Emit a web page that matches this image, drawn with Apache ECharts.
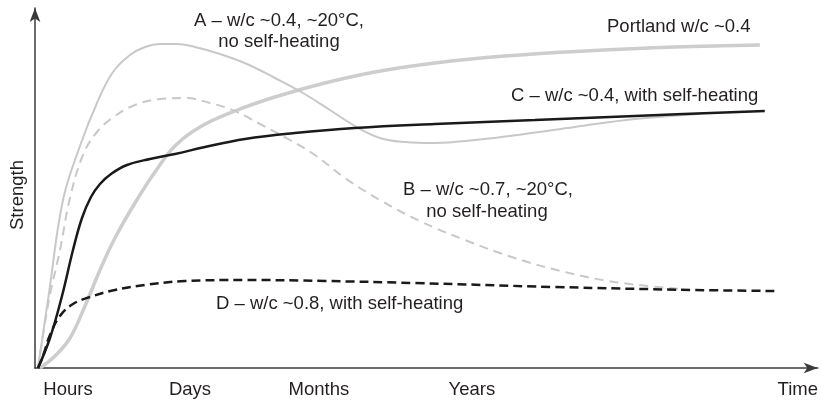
<!DOCTYPE html>
<html>
<head>
<meta charset="utf-8">
<script src="https://cdn.jsdelivr.net/npm/echarts@6/dist/echarts.min.js"></script>
<style>html,body{margin:0;padding:0;background:#fff}#c{width:821px;height:403px}</style>
</head>
<body>
<div id="c"></div>
<script>
// x: relative time position along the axis, y: relative strength
const tickLabels = ['Hours', 'Days', 'Months', 'Years', 'Time'];
const tickValues = [33, 155, 284, 437, 763];

const curveA = [[3,0],[14,75],[28,168],[45,222],[62,265],[78,296],[95,313],[110,321],[125,324],[142,324],[160,321],[185,314],[212,304],[240,290],[268,275],[295,258],[320,242],[345,230],[370,226],[400,225],[440,228],[490,234],[540,241],[600,249],[665,254]];
const curveB = [[3,0],[14,68],[25,118],[35,170],[48,213],[62,236],[80,252],[100,263],[125,269],[150,270],[175,265],[200,257],[225,244],[255,228],[280,213],[310,190],[345,168],[385,147],[430,128],[480,110],[530,96],[580,86],[645,79]];
const curveC = [[3,0],[15,30],[27,72],[38,118],[47,150],[56,171],[65,184],[76,194],[92,203],[115,209],[140,214],[170,221],[210,229],[260,235],[320,240],[400,244],[500,248],[600,252],[730,257]];
const curveD = [[3,0],[8,12],[15,33],[25,52],[38,64],[55,71],[80,78],[110,83],[150,87],[210,88],[290,87],[380,85],[520,81],[660,78],[740,77]];
const portland = [[5,0],[20,12],[35,30],[50,62],[65,98],[80,130],[100,165],[120,196],[140,222],[165,241],[200,257],[240,271],[290,285],[340,296],[400,305],[470,312],[550,317],[640,321],[725,323]];

const labelA1 = 'A – w/c ~0.4, ~20°C,';
const labelA2 = 'no self-heating';
const labelB1 = 'B – w/c ~0.7, ~20°C,';
const labelB2 = 'no self-heating';
const labelC = 'C – w/c ~0.4, with self-heating';
const labelD = 'D – w/c ~0.8, with self-heating';
const labelP = 'Portland w/c ~0.4';

const FONT = '"Liberation Sans", Arial, Helvetica, sans-serif';
const FS = 18.5;
const TXT = '#231f20';
const chart = echarts.init(document.getElementById('c'), null, {renderer: 'canvas'});

function txt(text, x, y, align) {
  return {type: 'text', x: x, y: y, silent: true,
    style: {text: text, font: FS + 'px ' + FONT, fill: TXT, textAlign: align, textVerticalAlign: 'middle'}};
}

chart.setOption({
  animation: false,
  backgroundColor: '#fff',
  grid: {left: 35, right: 3, top: 8, bottom: 35, containLabel: false},
  xAxis: {
    type: 'value', min: 0, max: 783,
    axisLine: {show: true, symbol: ['none', 'arrow'], symbolSize: [8, 14], lineStyle: {color: '#3a3a3a', width: 1.5}},
    axisTick: {show: false},
    splitLine: {show: false},
    axisLabel: {
      customValues: tickValues,
      margin: 12,
      color: TXT, fontSize: FS, fontFamily: FONT,
      formatter: function (v) { const i = tickValues.indexOf(v); return i >= 0 ? tickLabels[i] : ''; }
    }
  },
  yAxis: {
    type: 'value', min: 0, max: 360,
    name: 'Strength', nameLocation: 'middle', nameGap: 8,
    nameTextStyle: {color: TXT, fontSize: FS, fontFamily: FONT, padding: [0, 14, 0, 0]},
    axisLine: {show: true, symbol: ['none', 'arrow'], symbolSize: [8, 14], lineStyle: {color: '#3a3a3a', width: 1.5}},
    axisTick: {show: false},
    axisLabel: {show: false},
    splitLine: {show: false}
  },
  series: [
    {type: 'line', name: 'Portland', data: portland, smooth: 0.4, symbol: 'none', z: 1,
      lineStyle: {color: '#cdcdcd', width: 3.5}},
    {type: 'line', name: 'A', data: curveA, smooth: 0.4, symbol: 'none', z: 2,
      lineStyle: {color: '#c8c8c8', width: 2}},
    {type: 'line', name: 'B', data: curveB, smooth: 0.4, symbol: 'none', z: 2,
      lineStyle: {color: '#c8c8c8', width: 2, type: [9, 6]}},
    {type: 'line', name: 'C', data: curveC, smooth: 0.4, symbol: 'none', z: 3,
      lineStyle: {color: '#1a1a1a', width: 2.5}},
    {type: 'line', name: 'D', data: curveD, smooth: 0.4, symbol: 'none', z: 3,
      lineStyle: {color: '#1a1a1a', width: 2.5, type: [9, 5]}}
  ],
  graphic: [
    txt(labelA1, 279, 21, 'center'),
    txt(labelA2, 279, 42, 'center'),
    txt(labelP, 607, 27, 'left'),
    txt(labelC, 511, 96, 'left'),
    txt(labelB1, 488, 190, 'center'),
    txt(labelB2, 487, 212, 'center'),
    txt(labelD, 216, 304, 'left')
  ]
});
</script>
</body>
</html>
